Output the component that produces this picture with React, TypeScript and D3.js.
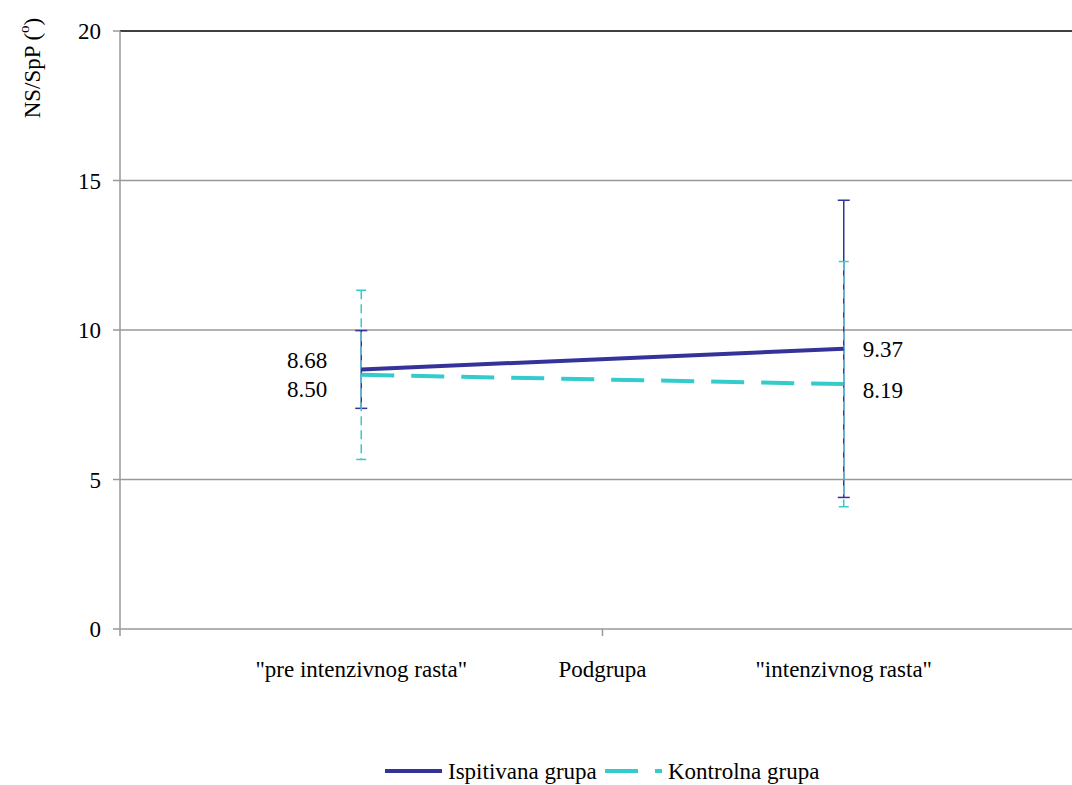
import React from "react";
import * as d3 from "d3";

const categories = ['"pre intenzivnog rasta"', '"intenzivnog rasta"'];
const seriesNames = ["Ispitivana grupa", "Kontrolna grupa"];
const ispitivanaMean = [8.68, 9.37];
const ispitivanaSD = [1.3, 4.97];
const kontrolnaMean = [8.5, 8.19];
const kontrolnaSD = [2.83, 4.1];
const yTicks = [0, 5, 10, 15, 20];

const W = 1072;
const H = 785;
const left = 120;
const right = 1085;
const top = 31;
const bottom = 629;
const FS = 23;

export default function App() {
  const x = d3.scaleBand<string>().domain(categories).range([left, right]);
  const y = d3.scaleLinear().domain([0, 20]).range([bottom, top]);
  const cx = (c: string) => (x(c) as number) + x.bandwidth() / 2;
  const line = d3
    .line<number>()
    .x((_, i) => cx(categories[i]))
    .y((d) => y(d));
  const font = "Liberation Serif";
  const navy = "#333399";
  const cyan = "#33CCCC";

  const series = [
    { name: seriesNames[0], mean: ispitivanaMean, sd: ispitivanaSD, color: navy, dash: undefined as string | undefined, ebDash: undefined as string | undefined, cap: 6 },
    { name: seriesNames[1], mean: kontrolnaMean, sd: kontrolnaSD, color: cyan, dash: "33,17", ebDash: "9,5", cap: 5 },
  ];

  return (
    <div style={{ position: "absolute", left: 0, top: 0 }}>
      <svg width={W} height={H} style={{ display: "block", overflow: "hidden" }} fontFamily={font} fontSize={FS}>
        <rect width={W} height={H} fill="white" />
        {yTicks.map((t) => (
          <g key={t}>
            <line x1={left} x2={right} y1={y(t)} y2={y(t)} stroke={t === 20 ? "#000" : "#999"} strokeWidth={1.5} />
            <line x1={left - 7} x2={left} y1={y(t)} y2={y(t)} stroke="#999" strokeWidth={1.5} />
            <text x={101} y={y(t)} dy="0.35em" textAnchor="end">
              {t}
            </text>
          </g>
        ))}
        <line x1={left} x2={left} y1={top} y2={bottom} stroke="#999" strokeWidth={1.5} />
        {[left, left + x.bandwidth(), right].map((v, i) => (
          <line key={i} x1={v} x2={v} y1={bottom} y2={bottom + 7} stroke="#999" strokeWidth={1.5} />
        ))}
        {categories.map((c) => (
          <text key={c} x={cx(c)} y={677} textAnchor="middle">
            {c}
          </text>
        ))}
        <text x={left + x.bandwidth()} y={677} textAnchor="middle">
          Podgrupa
        </text>
        <text transform={`translate(40,68) rotate(-90)`} textAnchor="middle">
          NS/SpP (
          <tspan dy={-11} fontSize={15}>o</tspan>
          <tspan dy={11}>)</tspan>
        </text>
        {series.map((s) =>
          categories.map((c, i) => {
            const xc = cx(c);
            const hi = y(s.mean[i] + s.sd[i]);
            const lo = y(s.mean[i] - s.sd[i]);
            return (
              <g key={s.name + c}>
                <line x1={xc} x2={xc} y1={hi} y2={lo} stroke={s.color} strokeWidth={1.5} strokeDasharray={s.ebDash} />
                <line x1={xc - s.cap} x2={xc + s.cap} y1={hi} y2={hi} stroke={s.color} strokeWidth={1.5} />
                <line x1={xc - s.cap} x2={xc + s.cap} y1={lo} y2={lo} stroke={s.color} strokeWidth={1.5} />
              </g>
            );
          })
        )}
        {series.map((s) => (
          <path key={s.name} d={line(s.mean) as string} fill="none" stroke={s.color} strokeWidth={4} strokeDasharray={s.dash} />
        ))}
        {series.map((s) => (
          <g key={s.name + "lbl"}>
            <text x={cx(categories[0]) - 34} y={y(s.mean[0]) + (s === series[0] ? -1 : 22)} textAnchor="end">
              {s.mean[0].toFixed(2)}
            </text>
            <text x={cx(categories[1]) + 19} y={y(s.mean[1]) + (s === series[0] ? 8 : 14)} textAnchor="start">
              {s.mean[1].toFixed(2)}
            </text>
          </g>
        ))}
        <line x1={385} x2={442} y1={771} y2={771} stroke={navy} strokeWidth={4} />
        <text x={448} y={779}>
          {seriesNames[0]}
        </text>
        <line x1={605} x2={662} y1={771} y2={771} stroke={cyan} strokeWidth={4} strokeDasharray="33,17" />
        <text x={668} y={779}>
          {seriesNames[1]}
        </text>
      </svg>
    </div>
  );
}
